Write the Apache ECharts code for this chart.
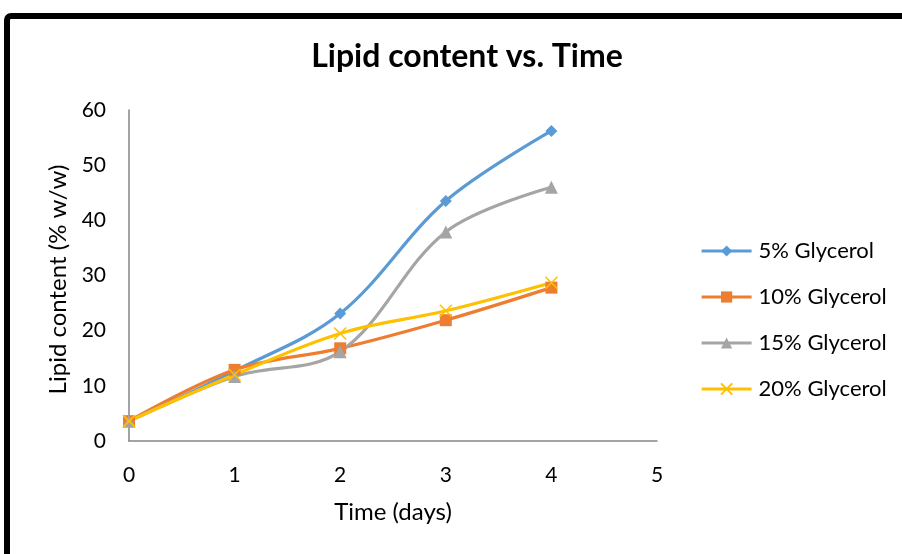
<!DOCTYPE html>
<html>
<head>
<meta charset="utf-8">
<script src="https://cdn.jsdelivr.net/npm/echarts@6/dist/echarts.min.js"></script>
<style>
  html, body { margin: 0; padding: 0; background: #fff; }
  #chart { width: 902px; height: 554px; }
</style>
</head>
<body>
<div id="chart"></div>
<script>
// Sampling days
const days = [0, 1, 2, 3, 4];
// Lipid content (% w/w) for each glycerol concentration
const glycerol5 = [3.6, 12.7, 23.1, 43.5, 56.2];
const glycerol10 = [3.6, 12.9, 16.8, 21.9, 27.8];
const glycerol15 = [3.6, 11.7, 16.2, 37.9, 46.0];
const glycerol20 = [3.6, 12.0, 19.5, 23.6, 28.7];
const seriesNames = ['5% Glycerol', '10% Glycerol', '15% Glycerol', '20% Glycerol'];

const FONT = 'Lato, "Open Sans", sans-serif';
const LINE_W = 3.2;
const pairs = (vals) => days.map((d, i) => [d, vals[i]]);
const crossPath = 'path://M0,0L10,10M10,0L0,10';

const chart = echarts.init(document.getElementById('chart'));

function lineSeries(name, vals, color, symbol, size, extra) {
  return Object.assign({
    name: name,
    type: 'line',
    data: pairs(vals),
    smooth: 0.35,
    symbol: symbol,
    symbolSize: size,
    lineStyle: { color: color, width: LINE_W },
    itemStyle: { color: color },
    emphasis: { disabled: true }
  }, extra || {});
}

chart.setOption({
  animation: false,
  backgroundColor: '#fff',
  title: {
    text: 'Lipid content vs. Time',
    left: 462,
    top: 36,
    textAlign: 'center',
    textStyle: { fontFamily: FONT, fontWeight: 'bold', fontSize: 32, color: '#000' }
  },
  graphic: [{
    type: 'rect',
    shape: { x: 7, y: 16, width: 1000, height: 700, r: 4 },
    style: { fill: 'none', stroke: '#000', lineWidth: 6 },
    silent: true
  }],
  legend: {
    orient: 'vertical',
    left: 695,
    top: 235,
    itemWidth: 50,
    itemHeight: 14,
    itemGap: 24,
    lineStyle: { width: LINE_W },
    data: seriesNames,
    textStyle: { fontFamily: FONT, fontSize: 22, color: '#000', padding: [0, 0, 0, 2] }
  },
  grid: { left: 129, top: 110, right: 245, bottom: 113, containLabel: false },
  xAxis: {
    type: 'value',
    min: 0, max: 5, interval: 1,
    name: 'Time (days)',
    nameLocation: 'middle',
    nameGap: 59,
    nameTextStyle: { fontFamily: FONT, fontSize: 24, color: '#000' },
    axisLine: { lineStyle: { color: '#868686', width: 1.5 } },
    axisTick: { show: false },
    splitLine: { show: false },
    axisLabel: { fontFamily: FONT, fontSize: 21, color: '#000', margin: 24 }
  },
  yAxis: {
    type: 'value',
    min: 0, max: 60, interval: 10,
    name: 'Lipid content (% w/w)',
    nameLocation: 'middle',
    nameGap: 57,
    nameTextStyle: { fontFamily: FONT, fontSize: 24, color: '#000', padding: [0, 8, 0, 0] },
    axisLine: { show: true, lineStyle: { color: '#868686', width: 1.5 } },
    axisTick: { show: false },
    splitLine: { show: false },
    axisLabel: { fontFamily: FONT, fontSize: 21, color: '#000', margin: 23 }
  },
  series: [
    lineSeries(seriesNames[0], glycerol5, '#5B9BD5', 'diamond', 12),
    lineSeries(seriesNames[1], glycerol10, '#ED7D31', 'rect', 12),
    lineSeries(seriesNames[2], glycerol15, '#A5A5A5', 'triangle', 13),
    lineSeries(seriesNames[3], glycerol20, '#FFC000', crossPath, 12, {
      itemStyle: { color: 'rgba(0,0,0,0)', borderColor: '#FFC000', borderWidth: 1.5 }
    })
  ]
});
</script>
</body>
</html>
